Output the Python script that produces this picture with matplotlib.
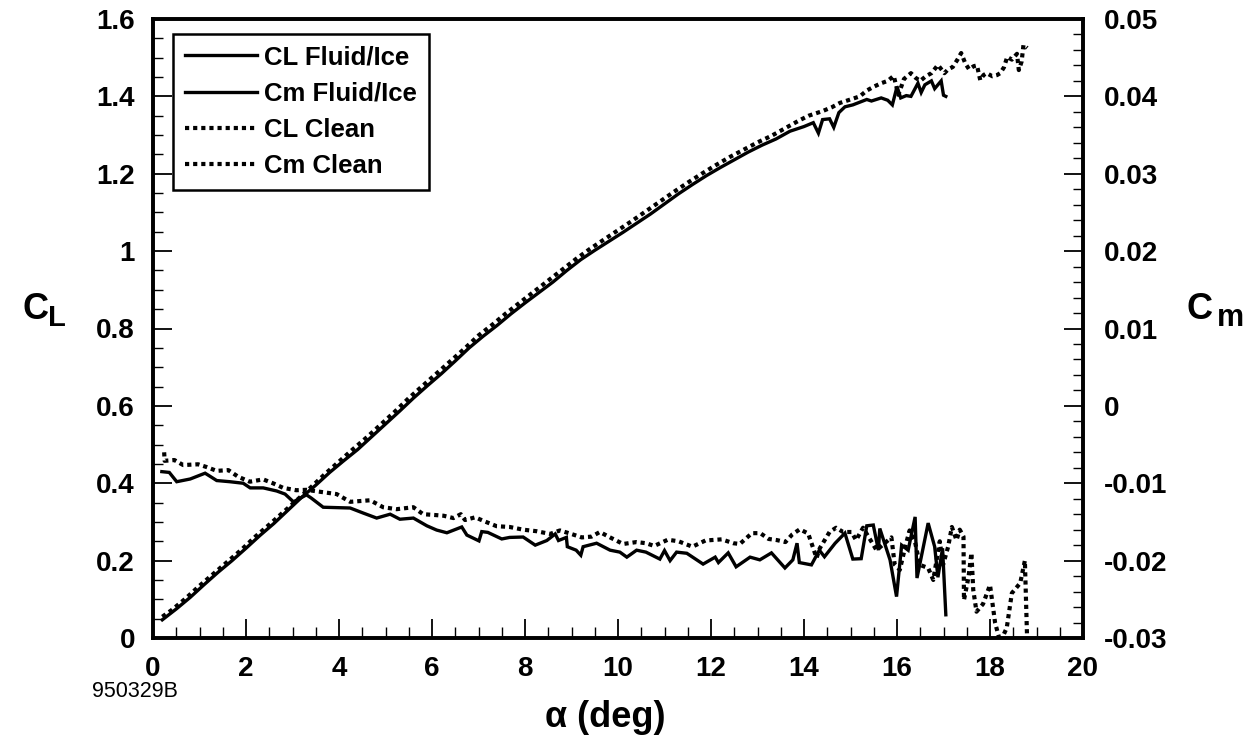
import matplotlib
matplotlib.use("Agg")
import matplotlib.pyplot as plt
from matplotlib.ticker import MultipleLocator

plt.rcParams['font.family'] = ['Liberation Sans', 'DejaVu Sans']

# ---------------- data ----------------
alpha_cl_ice = [0.2, 0.5, 0.8, 1.1, 1.4, 1.7, 2.0, 2.3, 2.6, 2.9, 3.2, 3.5, 3.8, 4.1, 4.4,
                4.7, 5.0, 5.3, 5.6, 5.9, 6.2, 6.5, 6.8, 7.1, 7.4, 7.7, 8.0, 8.3, 8.6, 8.9,
                9.2, 9.5, 9.8, 10.1, 10.4, 10.7, 11.0, 11.3, 11.6, 11.9, 12.2, 12.5, 12.8,
                13.1, 13.4, 13.7, 14.0, 14.2, 14.31, 14.4, 14.55, 14.64, 14.75, 14.88,
                15.05, 15.2, 15.35, 15.45, 15.66, 15.8, 15.9, 16.0, 16.08, 16.2, 16.3,
                16.45, 16.52, 16.6, 16.74, 16.81, 16.88, 16.95, 17.0, 17.05]
cl_ice = [0.047, 0.075, 0.105, 0.138, 0.170, 0.200, 0.232, 0.265, 0.296, 0.330, 0.364,
          0.395, 0.428, 0.458, 0.487, 0.520, 0.553, 0.586, 0.620, 0.652, 0.683, 0.716,
          0.750, 0.780, 0.808, 0.838, 0.866, 0.893, 0.920, 0.950, 0.978, 1.002, 1.025,
          1.048, 1.072, 1.096, 1.122, 1.148, 1.172, 1.195, 1.216, 1.236, 1.256, 1.274,
          1.290, 1.310, 1.322, 1.332, 1.305, 1.340, 1.342, 1.320, 1.358, 1.373, 1.378,
          1.385, 1.392, 1.388, 1.396, 1.390, 1.378, 1.425, 1.396, 1.402, 1.400, 1.434,
          1.410, 1.430, 1.440, 1.420, 1.430, 1.440, 1.403, 1.400]

alpha_cl_clean = [0.2, 0.4, 0.7, 1.0, 1.3, 1.6, 1.9, 2.2, 2.5, 2.8, 3.1, 3.4, 3.7, 4.0, 4.3,
                  4.6, 4.9, 5.2, 5.5, 5.8, 6.1, 6.4, 6.7, 7.0, 7.3, 7.6, 7.9, 8.2, 8.5, 8.8,
                  9.1, 9.4, 9.7, 10.0, 10.3, 10.6, 10.9, 11.2, 11.5, 11.8, 12.1, 12.4, 12.7,
                  13.0, 13.3, 13.6, 13.9, 14.1, 14.4, 14.6, 14.77, 15.0, 15.2, 15.35, 15.5,
                  15.66, 15.8, 15.93, 16.03, 16.15, 16.3, 16.4, 16.5, 16.62, 16.74, 16.88,
                  17.02, 17.1, 17.2, 17.3, 17.38, 17.47, 17.55, 17.65, 17.72, 17.79, 17.86,
                  17.93, 18.05, 18.15, 18.22, 18.3, 18.37, 18.47, 18.58, 18.62, 18.68,
                  18.72, 18.8]
cl_clean = [0.055, 0.072, 0.102, 0.135, 0.166, 0.197, 0.228, 0.262, 0.293, 0.325, 0.357,
            0.390, 0.424, 0.456, 0.488, 0.519, 0.552, 0.585, 0.620, 0.652, 0.684, 0.716,
            0.748, 0.782, 0.810, 0.840, 0.868, 0.896, 0.924, 0.952, 0.980, 1.006, 1.030,
            1.054, 1.078, 1.103, 1.128, 1.153, 1.177, 1.200, 1.222, 1.243, 1.262, 1.281,
            1.298, 1.318, 1.338, 1.350, 1.362, 1.372, 1.383, 1.392, 1.400, 1.415, 1.425,
            1.434, 1.440, 1.453, 1.404, 1.445, 1.460, 1.448, 1.440, 1.452, 1.460, 1.481,
            1.460, 1.470, 1.476, 1.495, 1.512, 1.485, 1.470, 1.478, 1.480, 1.442, 1.455,
            1.460, 1.452, 1.455, 1.460, 1.475, 1.502, 1.495, 1.510, 1.468, 1.490, 1.533,
            1.525]

alpha_cm_ice = [0.19, 0.35, 0.51, 0.8, 1.12, 1.2, 1.37, 1.65, 1.94, 2.09, 2.37, 2.66, 2.84,
                3.02, 3.3, 3.4, 3.66, 4.24, 4.52, 4.81, 5.1, 5.31, 5.6, 5.89, 6.1, 6.32,
                6.64, 6.75, 7.01, 7.07, 7.2, 7.5, 7.67, 7.96, 8.22, 8.47, 8.65, 8.72, 8.89,
                8.91, 9.1, 9.2, 9.25, 9.54, 9.83, 10.04, 10.19, 10.4, 10.6, 10.9, 11.0,
                11.12, 11.26, 11.48, 11.83, 12.09, 12.16, 12.37, 12.54, 12.84, 13.05, 13.3,
                13.59, 13.76, 13.85, 13.9, 14.16, 14.33, 14.44, 14.67, 14.88, 15.05, 15.23,
                15.35, 15.49, 15.6, 15.63, 15.85, 15.99, 16.1, 16.24, 16.39, 16.43, 16.67,
                16.81, 16.88, 16.98, 17.05]
cm_ice = [-0.0085, -0.0086, -0.0098, -0.00945, -0.0087, -0.009, -0.00965, -0.0098, -0.010,
          -0.0106, -0.0106, -0.011, -0.0114, -0.0124, -0.0115, -0.0119, -0.0131, -0.0132,
          -0.01385, -0.0145, -0.014, -0.01465, -0.0145, -0.0155, -0.01605, -0.0164,
          -0.01565, -0.0167, -0.01745, -0.01625, -0.01635, -0.0172, -0.017, -0.01695,
          -0.018, -0.0174, -0.01655, -0.0174, -0.017, -0.0182, -0.01865, -0.0193, -0.0182,
          -0.01775, -0.01865, -0.0189, -0.01955, -0.01865, -0.0189, -0.0198, -0.0187,
          -0.020, -0.0189, -0.01905, -0.02045, -0.01955, -0.02025, -0.019, -0.0208,
          -0.01955, -0.0199, -0.019, -0.02095, -0.0199, -0.01775, -0.02025, -0.02055,
          -0.01865, -0.0195, -0.01775, -0.01645, -0.0198, -0.01975, -0.0155, -0.0154,
          -0.01865, -0.01585, -0.0199, -0.02465, -0.018, -0.01865, -0.01435, -0.02225,
          -0.01515, -0.0182, -0.02215, -0.0184, -0.027]

alpha_cm_clean = [0.24, 0.25, 0.46, 0.65, 0.97, 1.15, 1.37, 1.62, 1.83, 2.08, 2.37, 2.58,
                  2.8, 3.08, 3.3, 3.59, 3.95, 4.24, 4.67, 4.95, 5.24, 5.6, 5.81, 6.05, 6.25,
                  6.46, 6.62, 6.71, 6.93, 7.1, 7.39, 7.67, 7.96, 8.25, 8.54, 8.75, 8.97,
                  9.22, 9.43, 9.61, 9.83, 10.11, 10.4, 10.6, 10.78, 11.07, 11.3, 11.6, 11.88,
                  12.23, 12.48, 12.62, 12.88, 13.06, 13.24, 13.42, 13.6, 13.75, 13.91, 14.09,
                  14.27, 14.34, 14.55, 14.69, 14.84, 15.02, 15.12, 15.27, 15.56, 15.88,
                  15.95, 16.06, 16.17, 16.27, 16.38, 16.49, 16.67, 16.78, 16.92, 16.99,
                  17.1, 17.18, 17.28, 17.35, 17.43, 17.44, 17.54, 17.6, 17.64, 17.71, 17.85,
                  18.0, 18.11, 18.22, 18.36, 18.47, 18.65, 18.75, 18.8]
cm_clean = [-0.006, -0.0071, -0.007, -0.00765, -0.00755, -0.0079, -0.0084, -0.0083,
            -0.00915, -0.0098, -0.0095, -0.010, -0.0106, -0.0109, -0.01085, -0.0111,
            -0.0114, -0.0124, -0.0122, -0.0131, -0.01335, -0.0131, -0.014, -0.0141,
            -0.0142, -0.0145, -0.014, -0.01475, -0.0144, -0.01485, -0.01555, -0.01565,
            -0.016, -0.0162, -0.01655, -0.0161, -0.0165, -0.017, -0.0169, -0.0163, -0.017,
            -0.01785, -0.0176, -0.01775, -0.0181, -0.0173, -0.0175, -0.0182, -0.0174,
            -0.01725, -0.01775, -0.01785, -0.01645, -0.01645, -0.0172, -0.01735, -0.0176,
            -0.0166, -0.01595, -0.0165, -0.01965, -0.0184, -0.0163, -0.01575, -0.0163,
            -0.0163, -0.01735, -0.01575, -0.01865, -0.017, -0.0205, -0.0212, -0.0184,
            -0.0161, -0.01735, -0.02055, -0.02095, -0.0225, -0.0175, -0.02055, -0.0182,
            -0.01565, -0.01735, -0.016, -0.0169, -0.0251, -0.02205, -0.019, -0.0238,
            -0.0266, -0.0256, -0.02315, -0.02805, -0.0305, -0.0287, -0.0242, -0.0229,
            -0.020, -0.0305]

legend_labels = ["CL Fluid/Ice", "Cm Fluid/Ice", "CL Clean", "Cm Clean"]
x_ticks = [0, 2, 4, 6, 8, 10, 12, 14, 16, 18, 20]
cl_ticks = [0, 0.2, 0.4, 0.6, 0.8, 1.0, 1.2, 1.4, 1.6]
cl_tick_labels = ["0", "0.2", "0.4", "0.6", "0.8", "1", "1.2", "1.4", "1.6"]
cm_ticks = [-0.03, -0.02, -0.01, 0.0, 0.01, 0.02, 0.03, 0.04, 0.05]
cm_tick_labels = ["-0.03", "-0.02", "-0.01", "0", "0.01", "0.02", "0.03", "0.04", "0.05"]

# ---------------- figure ----------------
fig = plt.figure(figsize=(12.55, 7.38), dpi=100)
ax = fig.add_axes([153/1255, 1-638/738, 930/1255, 619/738])
ax2 = ax.twinx()

solid_kw = dict(color='black', lw=2.4, linestyle='-', solid_joinstyle='miter')
dot_kw = dict(color='black', lw=3.0, linestyle=(0, (1.0, 0.95)), dash_capstyle='butt')

l1, = ax.plot(alpha_cl_ice, cl_ice, **solid_kw)
l3, = ax.plot(alpha_cl_clean, cl_clean, **dot_kw)
l2, = ax2.plot(alpha_cm_ice, cm_ice, **solid_kw)
l4, = ax2.plot(alpha_cm_clean, cm_clean, **dot_kw)

ax.set_xlim(0, 20)
ax.set_ylim(0, 1.6)
ax2.set_ylim(-0.03, 0.05)

ax.set_xticks(x_ticks)
ax.set_xticklabels([str(t) for t in x_ticks])
ax.set_yticks(cl_ticks)
ax.set_yticklabels(cl_tick_labels)
ax2.set_yticks(cm_ticks)
ax2.set_yticklabels(cm_tick_labels)
ax.xaxis.set_minor_locator(MultipleLocator(0.5))
ax.yaxis.set_minor_locator(MultipleLocator(0.05))
ax2.yaxis.set_minor_locator(MultipleLocator(0.002))

for a in (ax, ax2):
    for s in a.spines.values():
        s.set_linewidth(2.6)
    for lab in a.get_xticklabels() + a.get_yticklabels():
        lab.set_fontweight('bold')
        lab.set_fontsize(20)

ax.tick_params(axis='x', which='major', direction='in', length=14, width=1.3, pad=13, top=False)
ax.tick_params(axis='x', which='minor', direction='in', length=8, width=1.0, top=False)
ax.tick_params(axis='y', which='major', direction='in', length=14, width=1.3, pad=13, right=False)
ax.tick_params(axis='y', which='minor', direction='in', length=7, width=1.0, right=False)
ax2.tick_params(axis='y', which='major', direction='in', length=14, width=1.3, pad=15)
ax2.tick_params(axis='y', which='minor', direction='in', length=7, width=1.0)

leg = ax.legend([l1, l2, l3, l4], legend_labels, loc='upper left',
                bbox_to_anchor=(0.0215, 0.976), prop={'weight': 'bold', 'size': 18.5},
                frameon=True, fancybox=False, edgecolor='black', framealpha=1,
                handlelength=2.8, handletextpad=0.3, labelspacing=0.48,
                borderpad=0.45, borderaxespad=0.0)
leg.get_frame().set_linewidth(1.8)

# axis labels
fig.text(23/1255, 1-319/738, "C", fontsize=26, fontweight='bold', ha='left', va='baseline')
fig.text(48/1255, 1-326/738, "L", fontsize=21, fontweight='bold', ha='left', va='baseline')
fig.text(1186/1255, 1-319/738, "C", fontsize=26, fontweight='bold', ha='left', va='baseline')
fig.text(1217/1255, 1-326/738, "m", fontsize=22, fontweight='bold', ha='left', va='baseline')
fig.text(605/1255, 1-727/738, "α (deg)", fontsize=26, fontweight='bold', ha='center', va='baseline')
fig.text(92/1255, 1-697/738, "950329B", fontsize=15.5, ha='left', va='baseline')

fig.savefig("out.png", dpi=100)
